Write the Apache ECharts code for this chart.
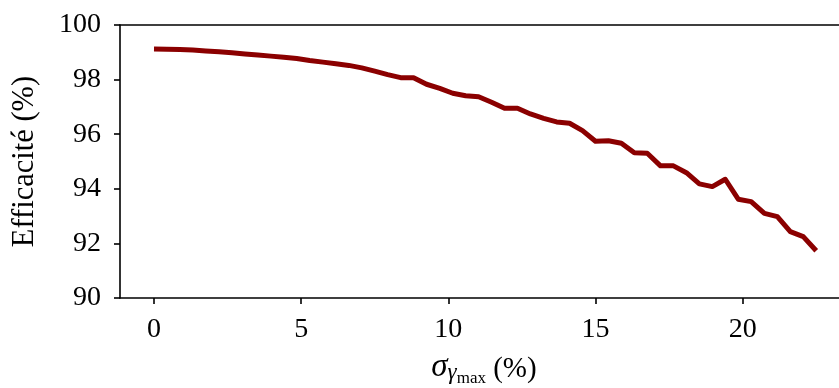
<!DOCTYPE html>
<html>
<head>
<meta charset="utf-8">
<script src="https://cdn.jsdelivr.net/npm/echarts@6/dist/echarts.min.js"></script>
<style>
html,body{margin:0;padding:0;background:#fff;}
#c{width:839px;height:388px;}
</style>
</head>
<body>
<div id="c"></div>
<script>
const sigmaValues = [0, 0.44, 0.88, 1.32, 1.76, 2.21, 2.65, 3.09, 3.53, 3.97, 4.41, 4.85, 5.29, 5.74, 6.18, 6.62, 7.06, 7.50, 7.94, 8.38, 8.82, 9.26, 9.71, 10.15, 10.59, 11.03, 11.47, 11.91, 12.35, 12.79, 13.24, 13.68, 14.12, 14.56, 15.00, 15.44, 15.88, 16.32, 16.76, 17.21, 17.65, 18.09, 18.53, 18.97, 19.41, 19.85, 20.29, 20.74, 21.18, 21.62, 22.06, 22.50];
const efficacite = [99.12, 99.11, 99.10, 99.08, 99.05, 99.02, 98.98, 98.94, 98.90, 98.86, 98.82, 98.77, 98.70, 98.64, 98.58, 98.52, 98.43, 98.31, 98.18, 98.07, 98.07, 97.83, 97.68, 97.50, 97.41, 97.37, 97.17, 96.95, 96.95, 96.74, 96.58, 96.45, 96.40, 96.13, 95.74, 95.76, 95.67, 95.32, 95.30, 94.84, 94.84, 94.59, 94.18, 94.08, 94.35, 93.62, 93.53, 93.10, 92.98, 92.43, 92.25, 91.73];
const xTicks = [0, 5, 10, 15, 20];
const yLabel = 'Efficacité (%)';

const FONT = "'Liberation Serif', 'DejaVu Serif', serif";
const chart = echarts.init(document.getElementById('c'), null, {renderer: 'canvas'});
const seriesData = sigmaValues.map((x, i) => [x, efficacite[i]]);
const X_MIN = -1.155, X_MAX = 23.58;

chart.setOption({
  animation: false,
  backgroundColor: '#fff',
  grid: {
    left: 120, top: 25, width: 728, height: 273,
    outerBoundsMode: 'none',
    containLabel: false,
    show: false
  },
  xAxis: [{
    type: 'value',
    position: 'bottom',
    min: X_MIN,
    max: X_MAX,
    axisLine: {show: true, onZero: false, lineStyle: {color: '#000', width: 1.6}},
    axisTick: {show: true, length: 6, inside: false, customValues: xTicks, lineStyle: {color: '#000', width: 1.6}},
    axisLabel: {customValues: xTicks, fontFamily: FONT, fontSize: 28, color: '#000', margin: 18},
    splitLine: {show: false},
    name: '{s|σ}{g|γ}{m|max}{n| (%)}',
    nameLocation: 'middle',
    nameGap: 59,
    nameTextStyle: {
      fontFamily: FONT, color: '#000',
      rich: {
        s: {fontFamily: FONT, fontStyle: 'italic', fontSize: 33, lineHeight: 33, verticalAlign: 'bottom', padding: [0, 0, 6, 0], color: '#000'},
        g: {fontFamily: FONT, fontStyle: 'italic', fontSize: 23, lineHeight: 23, verticalAlign: 'bottom', padding: [0, 0, 6, 0], color: '#000'},
        m: {fontFamily: FONT, fontSize: 17, lineHeight: 17, verticalAlign: 'bottom', padding: [0, 0, 3, 0], color: '#000'},
        n: {fontFamily: FONT, fontSize: 29, lineHeight: 29, verticalAlign: 'bottom', padding: [0, 0, 6, 0], color: '#000'}
      }
    }
  }, {
    type: 'value',
    position: 'top',
    min: X_MIN,
    max: X_MAX,
    axisLine: {show: true, onZero: false, lineStyle: {color: '#000', width: 1.6}},
    axisTick: {show: false},
    axisLabel: {show: false},
    splitLine: {show: false}
  }],
  yAxis: {
    type: 'value',
    min: 90,
    max: 100,
    interval: 2,
    axisLine: {show: true, onZero: false, lineStyle: {color: '#000', width: 1.6}},
    axisTick: {show: true, length: 6, lineStyle: {color: '#000', width: 1.6}},
    axisLabel: {fontFamily: FONT, fontSize: 28, color: '#000', margin: 19},
    splitLine: {show: false},
    name: yLabel,
    nameLocation: 'middle',
    nameRotate: 90,
    nameGap: 80,
    nameTextStyle: {fontFamily: FONT, fontSize: 30.5, color: '#000'}
  },
  series: [{
    type: 'line',
    xAxisIndex: 0,
    data: seriesData,
    showSymbol: false,
    symbol: 'none',
    lineStyle: {color: '#8b0000', width: 5, cap: 'butt', join: 'round'},
    z: 3
  }]
});
</script>
</body>
</html>
